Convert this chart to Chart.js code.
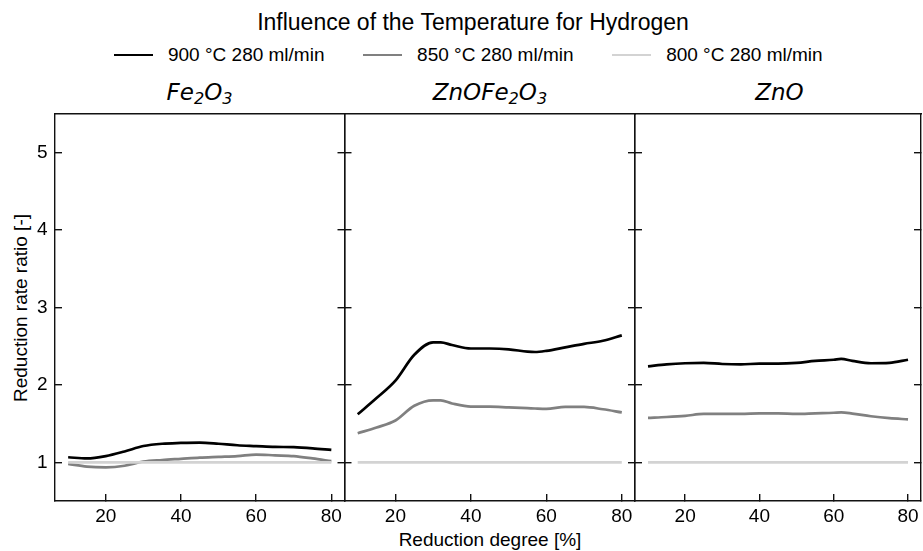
<!DOCTYPE html>
<html>
<head>
<meta charset="utf-8">
<script src="https://cdn.jsdelivr.net/npm/chart.js@4.4.1/dist/chart.umd.min.js"></script>
<style>
  html, body { margin:0; padding:0; width:923px; height:551px; overflow:hidden; background:#fff; }
  body { position:relative; font-family:"Liberation Sans", Arial, sans-serif; color:#000; }
  canvas { position:absolute; left:0; top:0; }
  .txt { position:absolute; white-space:nowrap; line-height:normal; }
  #title { left:473px; top:9px; font-size:23px; transform:translateX(-50%); }
  #legend { position:absolute; left:114px; top:44px; display:flex; align-items:center; font-size:19px; white-space:nowrap; }
  .item { display:flex; align-items:center; margin-right:38.6px; }
  .item:last-child { margin-right:0; }
  .swatch { width:38.6px; height:2.7px; margin-right:15.4px; }
  .sub-t { position:absolute; top:79px; font-family:"DejaVu Sans", sans-serif; font-style:italic; font-size:23px; line-height:27px; transform:translateX(-50%); white-space:nowrap; }
  .sub-t sub { font-size:70%; vertical-align:baseline; position:relative; top:0.27em; }
  #xlabel { left:490px; top:529px; font-size:19px; transform:translateX(-50%); }
  #ylabel { left:21px; top:307.5px; font-size:19px; transform:translate(-50%,-50%) rotate(-90deg); }
</style>
</head>
<body>
<div id="title" class="txt">Influence of the Temperature for Hydrogen</div>
<div id="legend"></div>
<div class="sub-t" style="left:199.5px">Fe<sub>2</sub>O<sub>3</sub></div>
<div class="sub-t" style="left:490px">ZnOFe<sub>2</sub>O<sub>3</sub></div>
<div class="sub-t" style="left:779.5px">ZnO</div>
<div id="xlabel" class="txt">Reduction degree [%]</div>
<div id="ylabel" class="txt">Reduction rate ratio [-]</div>
<canvas id="c1" width="930" height="551"></canvas>
<canvas id="c2" width="930" height="551"></canvas>
<canvas id="c3" width="930" height="551"></canvas>
<script>
// ---------- data ----------
const seriesLabels = ['900 °C 280 ml/min', '850 °C 280 ml/min', '800 °C 280 ml/min'];
const seriesColors = ['#000000', '#808080', '#d3d3d3'];
const panelTitles = ['Fe2O3', 'ZnOFe2O3', 'ZnO'];

const xTicks = [20, 40, 60, 80];
const yTicks = [1, 2, 3, 4, 5];

// Fe2O3
const xFe = [10, 15, 20, 25, 30, 35, 40, 45, 50, 55, 60, 65, 70, 75, 80];
const fe900 = [1.065, 1.05, 1.08, 1.14, 1.21, 1.24, 1.25, 1.255, 1.24, 1.22, 1.21, 1.20, 1.195, 1.18, 1.16];
const fe850 = [0.98, 0.945, 0.935, 0.955, 1.01, 1.03, 1.045, 1.06, 1.07, 1.08, 1.10, 1.09, 1.08, 1.05, 1.015];
const xFe800 = [10, 80];
const fe800 = [1, 1];

// ZnOFe2O3
const xZf = [10, 15, 20, 25, 30, 32, 35, 40, 45, 50, 55, 57, 60, 65, 70, 75, 80];
const zf900 = [1.62, 1.83, 2.055, 2.39, 2.55, 2.55, 2.515, 2.47, 2.47, 2.46, 2.43, 2.425, 2.44, 2.485, 2.53, 2.57, 2.64];
const zf850 = [1.375, 1.45, 1.54, 1.73, 1.80, 1.80, 1.76, 1.72, 1.72, 1.71, 1.70, 1.695, 1.69, 1.715, 1.715, 1.685, 1.645];
const xZf800 = [10, 80];
const zf800 = [1, 1];

// ZnO
const xZn = [10, 15, 20, 25, 30, 35, 40, 45, 50, 55, 60, 62, 65, 70, 75, 80];
const zn900 = [2.24, 2.265, 2.28, 2.285, 2.27, 2.265, 2.275, 2.275, 2.285, 2.31, 2.325, 2.335, 2.31, 2.28, 2.285, 2.325];
const zn850 = [1.575, 1.585, 1.60, 1.625, 1.625, 1.625, 1.633, 1.633, 1.625, 1.633, 1.64, 1.645, 1.63, 1.595, 1.57, 1.555];
const xZn800 = [10, 80];
const zn800 = [1, 1];

// ---------- layout ----------
const CW = 930, CH = 551;
const PLOT_TOP = 114, PLOT_BOTTOM = 501;
const panelEdges = [[55, 344.5], [344.5, 635], [635, 924]];
const X_MIN = 6.5, X_MAX = 83.5, Y_MIN = 0.5, Y_MAX = 5.5;
const Y_AXIS_W = 40, X_AXIS_H = 45;

// legend (HTML)
const legendEl = document.getElementById('legend');
seriesLabels.forEach((lab, i) => {
  const it = document.createElement('div'); it.className = 'item';
  const sw = document.createElement('span'); sw.className = 'swatch'; sw.style.background = seriesColors[i];
  const tx = document.createElement('span'); tx.textContent = lab;
  it.appendChild(sw); it.appendChild(tx); legendEl.appendChild(it);
});

const zip = (xs, ys) => xs.map((x, i) => ({x: x, y: ys[i]}));
const panels = [
  [zip(xFe, fe900), zip(xFe, fe850), zip(xFe800, fe800)],
  [zip(xZf, zf900), zip(xZf, zf850), zip(xZf800, zf800)],
  [zip(xZn, zn900), zip(xZn, zn850), zip(xZn800, zn800)]
];

const AX = '#111111';
const tickFont = {family: '"Liberation Sans", Arial, sans-serif', size: 19};

function setTicks(list) { return function(s) { s.ticks = list.map(v => ({value: v})); }; }
function fixW(w) { return function(s) { s.width = w; }; }
function fixH(h) { return function(s) { s.height = h; }; }

function makeChart(id, idx) {
  const [l, r] = panelEdges[idx];
  const showY = idx === 0;
  const datasets = panels[idx].map((pts, i) => ({
    label: seriesLabels[i],
    data: pts,
    borderColor: seriesColors[i],
    backgroundColor: seriesColors[i],
    borderWidth: 2.7,
    pointRadius: 0,
    fill: false,
    cubicInterpolationMode: 'monotone',
    order: 3 - i
  }));
  const yGrid = {drawOnChartArea: false, tickLength: -7, color: AX, lineWidth: 1.4};
  new Chart(document.getElementById(id), {
    type: 'line',
    data: {datasets: datasets},
    options: {
      responsive: false, animation: false, devicePixelRatio: 1,
      layout: {padding: {left: l - Y_AXIS_W, right: CW - r, top: PLOT_TOP, bottom: CH - PLOT_BOTTOM - X_AXIS_H}},
      plugins: {legend: {display: false}, tooltip: {enabled: false}, title: {display: false}},
      events: [],
      scales: {
        x: {
          type: 'linear', position: 'bottom', min: X_MIN, max: X_MAX,
          afterBuildTicks: setTicks(xTicks), afterFit: fixH(X_AXIS_H),
          grid: {drawOnChartArea: false, tickLength: -7, color: AX, lineWidth: 1.4},
          border: {display: true, color: AX, width: 1.4},
          ticks: {font: tickFont, color: '#000', padding: 11, maxRotation: 0, autoSkip: false}
        },
        xTop: {
          type: 'linear', position: 'top', min: X_MIN, max: X_MAX, afterFit: fixH(0),
          grid: {display: false}, ticks: {display: false},
          border: {display: true, color: AX, width: 1.4}
        },
        y: {
          type: 'linear', position: 'left', min: Y_MIN, max: Y_MAX,
          afterBuildTicks: setTicks(yTicks), afterFit: fixW(Y_AXIS_W),
          grid: yGrid,
          border: {display: true, color: AX, width: 1.4},
          ticks: {display: showY, font: tickFont, color: '#000', padding: 14.5}
        },
        yRight: {
          type: 'linear', position: 'right', min: Y_MIN, max: Y_MAX,
          afterBuildTicks: setTicks(yTicks), afterFit: fixW(0),
          grid: yGrid,
          border: {display: true, color: AX, width: 1.4},
          ticks: {display: false}
        }
      }
    }
  });
}
makeChart('c1', 0);
makeChart('c2', 1);
makeChart('c3', 2);
</script>
</body>
</html>
